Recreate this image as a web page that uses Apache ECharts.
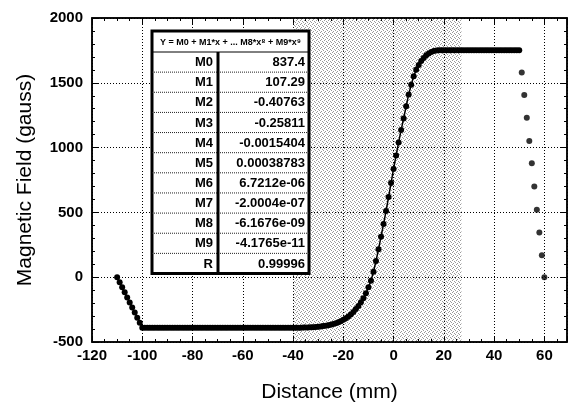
<!DOCTYPE html>
<html>
<head>
<meta charset="utf-8">
<script src="https://cdn.jsdelivr.net/npm/echarts@6/dist/echarts.min.js"></script>
<style>
  html, body { margin: 0; padding: 0; background: #fff; }
  #chart { width: 568px; height: 408px; }
</style>
</head>
<body>
<div id="chart"></div>
<script>
// measured points, 1 mm steps (mm)
const distance = [
  -110, -109, -108, -107, -106, -105, -104, -103, -102, -101, -100,
  -99, -98, -97, -96, -95, -94, -93, -92, -91, -90, -89, -88, -87, -86, -85, -84, -83, -82, -81,
  -80, -79, -78, -77, -76, -75, -74, -73, -72, -71, -70, -69, -68, -67, -66, -65, -64, -63, -62, -61,
  -60, -59, -58, -57, -56, -55, -54, -53, -52, -51, -50, -49, -48, -47, -46, -45, -44, -43, -42, -41,
  -40, -39, -38, -37,
  -36, -35, -34, -33, -32, -31, -30, -29, -28, -27, -26,
  -25, -24, -23, -22, -21, -20, -19, -18, -17, -16, -15, -14, -13, -12, -11, -10,
  -9, -8, -7, -6, -5, -4, -3, -2, -1, 0, 1, 2, 3, 4, 5, 6, 7, 8, 9, 10,
  11, 12, 13, 14, 15, 16, 17, 18,
  19, 20, 21, 22, 23, 24, 25, 26, 27, 28, 29, 30, 31, 32, 33, 34, 35, 36, 37, 38, 39, 40,
  41, 42, 43, 44, 45, 46, 47, 48, 49, 50
]
// magnetic field (gauss)
const field = [
  0, -39, -78, -117, -156, -195, -234, -273, -312, -351, -390,
  -390, -390, -390, -390, -390, -390, -390, -390, -390, -390, -390, -390, -390, -390, -390, -390, -390, -390, -390,
  -390, -390, -390, -390, -390, -390, -390, -390, -390, -390, -390, -390, -390, -390, -390, -390, -390, -390, -390, -390,
  -390, -390, -390, -390, -390, -390, -390, -390, -390, -390, -390, -390, -390, -390, -390, -390, -390, -390, -390, -390,
  -390, -390, -390, -390,
  -389, -389, -388, -387, -386, -384, -382, -380, -377, -374, -370,
  -366, -361, -355, -348, -339, -329, -317, -303, -287, -268, -246, -222, -194, -162, -124, -78,
  -28, 42, 125, 215, 312, 410, 510, 618, 727, 835, 940, 1040, 1135, 1225, 1320, 1410, 1485, 1550, 1600, 1638,
  1668, 1692, 1712, 1727, 1738, 1745, 1749, 1751,
  1752, 1752, 1752, 1752, 1752, 1752, 1752, 1752, 1752, 1752, 1752, 1752, 1752, 1752, 1752, 1752, 1752, 1752, 1752, 1752, 1752, 1752,
  1752, 1752, 1752, 1752, 1752, 1752, 1752, 1752, 1752, 1752
]
// separate points at the right end
const dropDistance = [51, 52, 53, 54, 55, 56, 57, 58, 59, 60]
const dropField = [1580, 1405, 1230, 1050, 880, 700, 520, 345, 170, 0]

// shaded band (mm)
const shadeRange = [-40, 27]

// fit table
const fitTitle = 'Y = M0 + M1*x + ... M8*x\u2078 + M9*x\u2079'
const paramNames = ['M0', 'M1', 'M2', 'M3', 'M4', 'M5', 'M6', 'M7', 'M8', 'M9', 'R']
const paramValues = ['837.4', '107.29', '-0.40763', '-0.25811', '-0.0015404', '0.00038783',
  '6.7212e-06', '-2.0004e-07', '-6.1676e-09', '-4.1765e-11', '0.99996']

const FONT = '"Liberation Sans", Arial, sans-serif'

// stipple for the shaded band
function makeStipple() {
  const c = document.createElement('canvas')
  c.width = 4
  c.height = 4
  const ctx = c.getContext('2d')
  ctx.fillStyle = 'rgba(70,70,70,0.55)'
  const pts = [[0, 0], [2, 1], [1, 3], [3, 2]]
  pts.forEach((p) => ctx.fillRect(p[0], p[1], 1, 1))
  return c
}

// table built as graphic elements
function buildTable() {
  const left = 152
  const top = 31
  const right = 309
  const bottom = 273.5
  const headH = 21
  const divX = 218
  const rowH = (bottom - top - headH) / paramNames.length
  const els = []
  els.push({
    type: 'rect', z: 100,
    shape: { x: left, y: top, width: right - left, height: bottom - top },
    style: { fill: '#fff', stroke: '#000', lineWidth: 3 }
  })
  els.push({
    type: 'line', z: 101,
    shape: { x1: left, y1: top + headH, x2: right, y2: top + headH },
    style: { stroke: '#000', lineWidth: 1 }
  })
  for (let i = 1; i < paramNames.length; i++) {
    const y = top + headH + i * rowH
    els.push({
      type: 'line', z: 101,
      shape: { x1: left, y1: y, x2: right, y2: y },
      style: { stroke: '#222', lineWidth: 1, lineDash: [1, 1] }
    })
  }
  els.push({
    type: 'line', z: 102,
    shape: { x1: divX, y1: top + headH, x2: divX, y2: bottom },
    style: { stroke: '#000', lineWidth: 3 }
  })
  els.push({
    type: 'text', z: 102,
    x: (left + right) / 2,
    y: top + headH / 2 + 1,
    style: {
      text: fitTitle, fill: '#000', font: 'bold 9px ' + FONT,
      align: 'center', verticalAlign: 'middle'
    }
  })
  paramNames.forEach((name, i) => {
    const cy = top + headH + (i + 0.5) * rowH + 0.5
    els.push({
      type: 'text', z: 102, x: divX - 5, y: cy,
      style: { text: name, fill: '#000', font: 'bold 13px ' + FONT, align: 'right', verticalAlign: 'middle' }
    })
    els.push({
      type: 'text', z: 102, x: right - 4, y: cy,
      style: { text: paramValues[i], fill: '#000', font: 'bold 13px ' + FONT, align: 'right', verticalAlign: 'middle' }
    })
  })
  return els
}

const tickLabel = { color: '#000', fontFamily: FONT, fontSize: 15, fontWeight: 'bold' }
const dotted = { color: '#000', width: 1, type: [1, 2] }

const option = {
  animation: false,
  grid: {
    left: 92, right: 1, top: 18, bottom: 63,
    show: true, borderColor: '#000', borderWidth: 1.5
  },
  xAxis: [
    {
      type: 'value', min: -120, max: 69, interval: 20,
      name: 'Distance (mm)', nameLocation: 'middle', nameGap: 40,
      nameTextStyle: { color: '#000', fontFamily: FONT, fontSize: 21 },
      axisLine: { show: true, onZero: false, lineStyle: { color: '#000', width: 1.5 } },
      axisTick: { show: true, inside: true, length: 6, lineStyle: { color: '#000' } },
      minorTick: { show: true, splitNumber: 4, length: 3, lineStyle: { color: '#000' } },
      axisLabel: Object.assign({ margin: 6, showMaxLabel: false }, tickLabel),
      splitLine: { show: true, lineStyle: dotted }
    },
    {
      type: 'value', min: -120, max: 69, interval: 20, position: 'top',
      axisLine: { show: true, onZero: false, lineStyle: { color: '#000', width: 1.5 } },
      axisTick: { show: true, inside: true, length: 6, lineStyle: { color: '#000' } },
      minorTick: { show: true, splitNumber: 4, length: 3, lineStyle: { color: '#000' } },
      axisLabel: { show: false },
      splitLine: { show: false }
    }
  ],
  yAxis: [
    {
      type: 'value', min: -500, max: 2000, interval: 500,
      name: 'Magnetic Field (gauss)', nameLocation: 'middle', nameGap: 56,
      nameTextStyle: { color: '#000', fontFamily: FONT, fontSize: 21 },
      axisLine: { show: true, onZero: false, lineStyle: { color: '#000', width: 1.5 } },
      axisTick: { show: true, inside: true, length: 6, lineStyle: { color: '#000' } },
      minorTick: { show: true, splitNumber: 5, length: 3, lineStyle: { color: '#000' } },
      axisLabel: Object.assign({ margin: 9, formatter: (v) => String(v) }, tickLabel),
      splitLine: { show: true, lineStyle: dotted }
    },
    {
      type: 'value', min: -500, max: 2000, interval: 500, position: 'right',
      axisLine: { show: true, onZero: false, lineStyle: { color: '#000', width: 1.5 } },
      axisTick: { show: true, inside: true, length: 6, lineStyle: { color: '#000' } },
      minorTick: { show: true, splitNumber: 5, length: 3, lineStyle: { color: '#000' } },
      axisLabel: { show: false },
      splitLine: { show: false }
    }
  ],
  series: [
    {
      // shaded band only
      type: 'line',
      z: -1,
      data: [],
      markArea: {
        silent: true,
        itemStyle: { color: { image: makeStipple(), repeat: 'repeat' } },
        data: [[{ xAxis: shadeRange[0] }, { xAxis: shadeRange[1] }]]
      }
    },
    {
      type: 'line',
      data: distance.map((d, i) => [d, field[i]]),
      symbol: 'circle',
      symbolSize: 6,
      showAllSymbol: true,
      itemStyle: { color: '#000' },
      lineStyle: { color: '#000', width: 1.5 }
    },
    {
      type: 'scatter',
      data: dropDistance.map((d, i) => [d, dropField[i]]),
      symbol: 'circle',
      symbolSize: 6,
      itemStyle: { color: '#000' }
    }
  ],
  graphic: buildTable()
}

const myChart = echarts.init(document.getElementById('chart'))
myChart.setOption(option)
</script>
</body>
</html>
